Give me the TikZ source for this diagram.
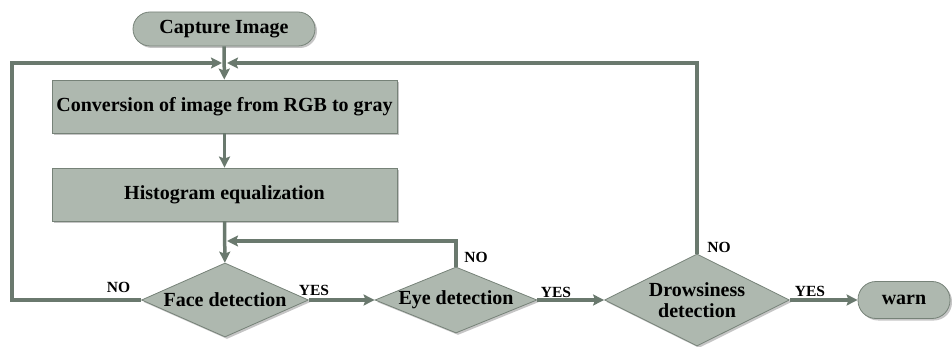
\documentclass[tikz,border=0pt]{standalone}
\usepackage{fontspec}
\setmainfont{Liberation Serif}
\usetikzlibrary{arrows.meta,shapes.geometric,shadows}
\definecolor{boxfill}{RGB}{174,184,175}
\definecolor{linecol}{RGB}{106,121,110}
\definecolor{edgecol}{RGB}{118,130,120}
\begin{document}
\begin{tikzpicture}[x=1pt,y=-1pt,
  font=\bfseries\fontsize{20}{20.5}\selectfont,
  shadowed/.style={drop shadow={shadow xshift=2pt,shadow yshift=-2pt,fill=black!45,opacity=0.5}},
  procbox/.style={draw=edgecol,line width=0.8pt,fill=boxfill,minimum width=345pt,minimum height=53pt,inner sep=0pt,shadowed},
  terminal/.style={draw=edgecol,line width=0.8pt,fill=boxfill,rounded corners=17pt,minimum width=182pt,minimum height=34pt,inner sep=0pt,shadowed},
  decision/.style={diamond,draw=edgecol,line width=0.8pt,fill=boxfill,inner sep=0pt,shadowed},
  flow/.style={draw=linecol,line width=3.5pt,line join=miter,-{Stealth[length=11pt,width=11pt,inset=2pt]}},
  lbl/.style={font=\bfseries\fontsize{15.5}{16}\selectfont,inner sep=0pt}]
\useasboundingbox (0,0) rectangle (952,347);

\node[terminal] (cap) at (224,29) {Capture Image};
\node[procbox] (conv) at (224.5,106.5) {Conversion of image from RGB to gray};
\node[procbox] (hist) at (224.5,194.5) {Histogram equalization};
\node[decision,minimum width=167pt,minimum height=74pt] (face) at (225,300) {};
\node at (face.center) {Face detection};
\node[decision,minimum width=162pt,minimum height=66pt] (eye) at (456,300) {};
\node at (eye.center) {Eye detection};
\node[decision,minimum width=185pt,minimum height=92pt] (drow) at (697,300) {};
\node[align=center] at (drow.center) {Drowsiness\\detection};
\node[terminal,minimum width=92pt,minimum height=37pt,rounded corners=18pt] (warn) at (904,300) {warn};

\coordinate (lc) at (12,63);
\coordinate (ml) at (222,63);
\coordinate (mr) at (227,63);
\coordinate (ef) at (227,241);

\draw[flow] (cap) -- (conv);
\draw[flow] (conv) -- (hist);
\draw[flow] (hist) -- (face);
\draw[flow] (face.east) -- (eye.west);
\draw[flow] (eye.east) -- (drow.west);
\draw[flow] (drow.east) -- (warn.west);
\draw[flow] (face.west) -| (lc) -- (ml);
\draw[flow] (drow.north) |- (mr);
\draw[flow] (eye.north) |- (ef);

\node[lbl] (no1) at (118.5,287) {NO};
\node[lbl] (yes1) at (314,290) {YES};
\node[lbl] (no2) at (476,257) {NO};
\node[lbl] (yes2) at (556,292) {YES};
\node[lbl] (no3) at (719,247) {NO};
\node[lbl] (yes3) at (810,291) {YES};
\end{tikzpicture}
\end{document}
